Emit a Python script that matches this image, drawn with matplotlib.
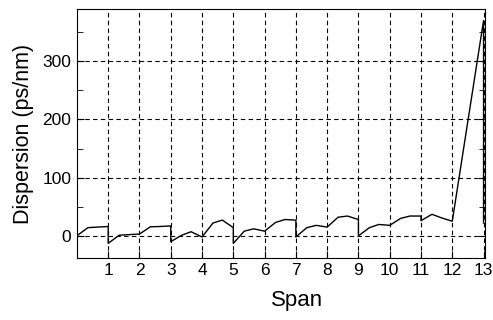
import numpy as np
import matplotlib.pyplot as plt
from matplotlib.ticker import MultipleLocator

plt.rcParams['font.family'] = ['Liberation Sans', 'DejaVu Sans']

# dispersion map along the link (span index vs accumulated dispersion)
span = [0, 0.35, 0.65, 1, 1, 1.35, 1.65, 2, 2.35, 2.65, 3, 3, 3.35, 3.65, 4,
        4.35, 4.65, 5, 5, 5.35, 5.65, 6, 6.35, 6.65, 7, 7, 7.35, 7.65, 8,
        8.35, 8.65, 9, 9, 9.35, 9.65, 10, 10.35, 10.65, 11, 11, 11.35, 11.65,
        12, 13, 13]
disp = [0, 14, 15, 16, -13, 1, 2, 3, 15.5, 16, 17, -10, 1, 7, -2,
        22, 27, 14, -13, 8, 12, 8, 23, 28, 27, -2, 14, 18, 15,
        32, 34, 28, 0, 14, 19.5, 18, 30, 34, 34, 26, 37, 31,
        25, 370, 22]
xticks = list(range(1, 14))
yticks = [0, 100, 200, 300]

fig = plt.figure(figsize=(4.93, 3.2), dpi=100)
ax = fig.add_axes([0.156, 0.194, 0.828, 0.778])
ax.plot(span, disp, color='black', lw=1.0)

ax.set_xlim(0, 13.05)
ax.set_ylim(-38, 390)
ax.set_xticks(xticks)
ax.set_yticks(yticks)
ax.yaxis.set_minor_locator(MultipleLocator(50))
ax.tick_params(direction='in', right=True, which='both', labelsize=12.5, pad=4)
ax.tick_params(which='major', length=5)
ax.tick_params(which='minor', length=4)
ax.grid(True, color='black', linestyle=(0, (4, 3)), lw=0.8)

ax.set_xlabel('Span', fontsize=16)
ax.set_ylabel('Dispersion (ps/nm)', fontsize=15.5)
ax.xaxis.set_label_coords(0.539, -0.13)
ax.yaxis.set_label_coords(-0.105, 0.5)

fig.savefig('out.png', dpi=100)
